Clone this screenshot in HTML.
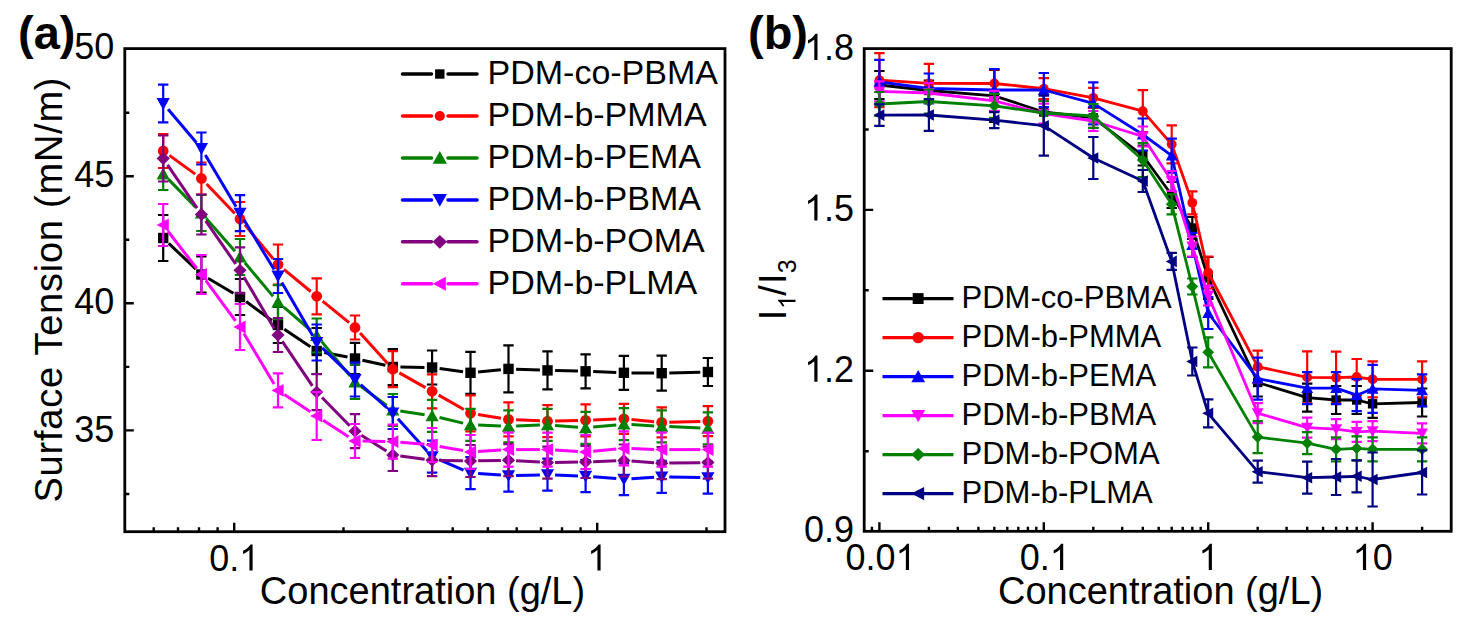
<!DOCTYPE html>
<html><head><meta charset="utf-8"><style>html,body{margin:0;padding:0;background:#fff;width:1471px;height:629px;overflow:hidden}</style></head><body>
<svg width="1471" height="629" viewBox="0 0 1471 629" style="position:absolute;left:0;top:0">
<rect width="1471" height="629" fill="#fff"/>
<g>
<line x1="168.7" y1="243.3" x2="195.9" y2="269.2" stroke="#000000" stroke-width="3.0" stroke-linecap="butt"/>
<line x1="208.0" y1="278.3" x2="233.4" y2="293.2" stroke="#000000" stroke-width="3.0" stroke-linecap="butt"/>
<line x1="246.1" y1="301.5" x2="271.9" y2="320.5" stroke="#000000" stroke-width="3.0" stroke-linecap="butt"/>
<line x1="284.3" y1="329.2" x2="310.4" y2="346.8" stroke="#000000" stroke-width="3.0" stroke-linecap="butt"/>
<line x1="324.2" y1="352.5" x2="347.5" y2="357.0" stroke="#000000" stroke-width="3.0" stroke-linecap="butt"/>
<line x1="362.4" y1="360.2" x2="385.4" y2="365.3" stroke="#000000" stroke-width="3.0" stroke-linecap="butt"/>
<line x1="400.4" y1="367.1" x2="424.5" y2="367.4" stroke="#000000" stroke-width="3.0" stroke-linecap="butt"/>
<line x1="439.6" y1="368.5" x2="463.0" y2="371.8" stroke="#000000" stroke-width="3.0" stroke-linecap="butt"/>
<line x1="478.1" y1="372.0" x2="500.9" y2="369.7" stroke="#000000" stroke-width="3.0" stroke-linecap="butt"/>
<line x1="516.1" y1="369.2" x2="539.9" y2="370.1" stroke="#000000" stroke-width="3.0" stroke-linecap="butt"/>
<line x1="555.1" y1="370.6" x2="578.0" y2="371.1" stroke="#000000" stroke-width="3.0" stroke-linecap="butt"/>
<line x1="593.2" y1="371.6" x2="616.3" y2="372.5" stroke="#000000" stroke-width="3.0" stroke-linecap="butt"/>
<line x1="631.5" y1="372.9" x2="654.1" y2="373.1" stroke="#000000" stroke-width="3.0" stroke-linecap="butt"/>
<line x1="669.3" y1="373.0" x2="700.3" y2="372.2" stroke="#000000" stroke-width="3.0" stroke-linecap="butt"/>
<path d="M163.2 215.0V261.0M158.0 215.0h10.4M158.0 261.0h10.4" stroke="#000000" stroke-width="2.2" fill="none"/>
<path d="M201.4 256.5V292.5M196.2 256.5h10.4M196.2 292.5h10.4" stroke="#000000" stroke-width="2.2" fill="none"/>
<path d="M240.0 279.0V315.0M234.8 279.0h10.4M234.8 315.0h10.4" stroke="#000000" stroke-width="2.2" fill="none"/>
<path d="M278.0 307.0V343.0M272.8 307.0h10.4M272.8 343.0h10.4" stroke="#000000" stroke-width="2.2" fill="none"/>
<path d="M316.7 328.0V374.0M311.5 328.0h10.4M311.5 374.0h10.4" stroke="#000000" stroke-width="2.2" fill="none"/>
<path d="M355.0 342.9V374.1M349.8 342.9h10.4M349.8 374.1h10.4" stroke="#000000" stroke-width="2.2" fill="none"/>
<path d="M392.8 349.0V385.0M387.6 349.0h10.4M387.6 385.0h10.4" stroke="#000000" stroke-width="2.2" fill="none"/>
<path d="M432.1 350.5V384.5M426.9 350.5h10.4M426.9 384.5h10.4" stroke="#000000" stroke-width="2.2" fill="none"/>
<path d="M470.5 351.8V393.8M465.3 351.8h10.4M465.3 393.8h10.4" stroke="#000000" stroke-width="2.2" fill="none"/>
<path d="M508.5 345.4V392.4M503.3 345.4h10.4M503.3 392.4h10.4" stroke="#000000" stroke-width="2.2" fill="none"/>
<path d="M547.5 351.4V389.4M542.3 351.4h10.4M542.3 389.4h10.4" stroke="#000000" stroke-width="2.2" fill="none"/>
<path d="M585.6 354.3V388.3M580.4 354.3h10.4M580.4 388.3h10.4" stroke="#000000" stroke-width="2.2" fill="none"/>
<path d="M623.9 355.8V389.8M618.7 355.8h10.4M618.7 389.8h10.4" stroke="#000000" stroke-width="2.2" fill="none"/>
<path d="M661.7 355.7V390.7M656.5 355.7h10.4M656.5 390.7h10.4" stroke="#000000" stroke-width="2.2" fill="none"/>
<path d="M707.9 358.0V386.0M702.7 358.0h10.4M702.7 386.0h10.4" stroke="#000000" stroke-width="2.2" fill="none"/>
<rect x="158.0" y="232.8" width="10.4" height="10.4" fill="#000000"/>
<rect x="196.2" y="269.3" width="10.4" height="10.4" fill="#000000"/>
<rect x="234.8" y="291.8" width="10.4" height="10.4" fill="#000000"/>
<rect x="272.8" y="319.8" width="10.4" height="10.4" fill="#000000"/>
<rect x="311.5" y="345.8" width="10.4" height="10.4" fill="#000000"/>
<rect x="349.8" y="353.3" width="10.4" height="10.4" fill="#000000"/>
<rect x="387.6" y="361.8" width="10.4" height="10.4" fill="#000000"/>
<rect x="426.9" y="362.3" width="10.4" height="10.4" fill="#000000"/>
<rect x="465.3" y="367.6" width="10.4" height="10.4" fill="#000000"/>
<rect x="503.3" y="363.7" width="10.4" height="10.4" fill="#000000"/>
<rect x="542.3" y="365.2" width="10.4" height="10.4" fill="#000000"/>
<rect x="580.4" y="366.1" width="10.4" height="10.4" fill="#000000"/>
<rect x="618.7" y="367.6" width="10.4" height="10.4" fill="#000000"/>
<rect x="656.5" y="368.0" width="10.4" height="10.4" fill="#000000"/>
<rect x="702.7" y="366.8" width="10.4" height="10.4" fill="#000000"/>
<line x1="169.4" y1="155.4" x2="195.2" y2="174.1" stroke="#ff0000" stroke-width="3.0" stroke-linecap="butt"/>
<line x1="206.6" y1="184.0" x2="234.8" y2="213.5" stroke="#ff0000" stroke-width="3.0" stroke-linecap="butt"/>
<line x1="244.9" y1="224.8" x2="273.1" y2="258.7" stroke="#ff0000" stroke-width="3.0" stroke-linecap="butt"/>
<line x1="283.9" y1="269.3" x2="310.8" y2="291.5" stroke="#ff0000" stroke-width="3.0" stroke-linecap="butt"/>
<line x1="322.6" y1="301.1" x2="349.1" y2="322.7" stroke="#ff0000" stroke-width="3.0" stroke-linecap="butt"/>
<line x1="360.1" y1="333.1" x2="387.7" y2="363.6" stroke="#ff0000" stroke-width="3.0" stroke-linecap="butt"/>
<line x1="399.4" y1="372.9" x2="425.5" y2="387.6" stroke="#ff0000" stroke-width="3.0" stroke-linecap="butt"/>
<line x1="438.7" y1="395.1" x2="463.9" y2="409.5" stroke="#ff0000" stroke-width="3.0" stroke-linecap="butt"/>
<line x1="478.0" y1="414.5" x2="501.0" y2="418.2" stroke="#ff0000" stroke-width="3.0" stroke-linecap="butt"/>
<line x1="516.1" y1="419.8" x2="539.9" y2="420.8" stroke="#ff0000" stroke-width="3.0" stroke-linecap="butt"/>
<line x1="555.1" y1="421.0" x2="578.0" y2="420.5" stroke="#ff0000" stroke-width="3.0" stroke-linecap="butt"/>
<line x1="593.2" y1="420.0" x2="616.3" y2="419.1" stroke="#ff0000" stroke-width="3.0" stroke-linecap="butt"/>
<line x1="631.5" y1="419.5" x2="654.1" y2="421.7" stroke="#ff0000" stroke-width="3.0" stroke-linecap="butt"/>
<line x1="669.3" y1="422.2" x2="700.3" y2="421.4" stroke="#ff0000" stroke-width="3.0" stroke-linecap="butt"/>
<path d="M163.2 134.0V168.0M158.0 134.0h10.4M158.0 168.0h10.4" stroke="#ff0000" stroke-width="2.2" fill="none"/>
<path d="M201.4 162.5V194.5M196.2 162.5h10.4M196.2 194.5h10.4" stroke="#ff0000" stroke-width="2.2" fill="none"/>
<path d="M240.0 202.0V236.0M234.8 202.0h10.4M234.8 236.0h10.4" stroke="#ff0000" stroke-width="2.2" fill="none"/>
<path d="M278.0 244.5V284.5M272.8 244.5h10.4M272.8 284.5h10.4" stroke="#ff0000" stroke-width="2.2" fill="none"/>
<path d="M316.7 278.3V314.3M311.5 278.3h10.4M311.5 314.3h10.4" stroke="#ff0000" stroke-width="2.2" fill="none"/>
<path d="M355.0 315.5V339.5M349.8 315.5h10.4M349.8 339.5h10.4" stroke="#ff0000" stroke-width="2.2" fill="none"/>
<path d="M392.8 351.2V387.2M387.6 351.2h10.4M387.6 387.2h10.4" stroke="#ff0000" stroke-width="2.2" fill="none"/>
<path d="M432.1 374.3V408.3M426.9 374.3h10.4M426.9 408.3h10.4" stroke="#ff0000" stroke-width="2.2" fill="none"/>
<path d="M470.5 395.3V431.3M465.3 395.3h10.4M465.3 431.3h10.4" stroke="#ff0000" stroke-width="2.2" fill="none"/>
<path d="M508.5 402.4V436.4M503.3 402.4h10.4M503.3 436.4h10.4" stroke="#ff0000" stroke-width="2.2" fill="none"/>
<path d="M547.5 405.2V437.2M542.3 405.2h10.4M542.3 437.2h10.4" stroke="#ff0000" stroke-width="2.2" fill="none"/>
<path d="M585.6 404.3V436.3M580.4 404.3h10.4M580.4 436.3h10.4" stroke="#ff0000" stroke-width="2.2" fill="none"/>
<path d="M623.9 403.8V433.8M618.7 403.8h10.4M618.7 433.8h10.4" stroke="#ff0000" stroke-width="2.2" fill="none"/>
<path d="M661.7 407.4V437.4M656.5 407.4h10.4M656.5 437.4h10.4" stroke="#ff0000" stroke-width="2.2" fill="none"/>
<path d="M707.9 406.2V436.2M702.7 406.2h10.4M702.7 436.2h10.4" stroke="#ff0000" stroke-width="2.2" fill="none"/>
<circle cx="163.2" cy="151.0" r="5.4" fill="#ff0000"/>
<circle cx="201.4" cy="178.5" r="5.4" fill="#ff0000"/>
<circle cx="240.0" cy="219.0" r="5.4" fill="#ff0000"/>
<circle cx="278.0" cy="264.5" r="5.4" fill="#ff0000"/>
<circle cx="316.7" cy="296.3" r="5.4" fill="#ff0000"/>
<circle cx="355.0" cy="327.5" r="5.4" fill="#ff0000"/>
<circle cx="392.8" cy="369.2" r="5.4" fill="#ff0000"/>
<circle cx="432.1" cy="391.3" r="5.4" fill="#ff0000"/>
<circle cx="470.5" cy="413.3" r="5.4" fill="#ff0000"/>
<circle cx="508.5" cy="419.4" r="5.4" fill="#ff0000"/>
<circle cx="547.5" cy="421.2" r="5.4" fill="#ff0000"/>
<circle cx="585.6" cy="420.3" r="5.4" fill="#ff0000"/>
<circle cx="623.9" cy="418.8" r="5.4" fill="#ff0000"/>
<circle cx="661.7" cy="422.4" r="5.4" fill="#ff0000"/>
<circle cx="707.9" cy="421.2" r="5.4" fill="#ff0000"/>
<line x1="168.5" y1="179.4" x2="196.1" y2="207.6" stroke="#008000" stroke-width="3.0" stroke-linecap="butt"/>
<line x1="206.4" y1="218.7" x2="235.0" y2="251.3" stroke="#008000" stroke-width="3.0" stroke-linecap="butt"/>
<line x1="244.9" y1="262.8" x2="273.1" y2="296.4" stroke="#008000" stroke-width="3.0" stroke-linecap="butt"/>
<line x1="283.8" y1="307.2" x2="310.9" y2="330.5" stroke="#008000" stroke-width="3.0" stroke-linecap="butt"/>
<line x1="321.5" y1="341.4" x2="350.2" y2="376.1" stroke="#008000" stroke-width="3.0" stroke-linecap="butt"/>
<line x1="361.1" y1="386.5" x2="386.7" y2="405.5" stroke="#008000" stroke-width="3.0" stroke-linecap="butt"/>
<line x1="400.3" y1="411.1" x2="424.6" y2="414.7" stroke="#008000" stroke-width="3.0" stroke-linecap="butt"/>
<line x1="439.5" y1="417.5" x2="463.1" y2="423.1" stroke="#008000" stroke-width="3.0" stroke-linecap="butt"/>
<line x1="478.1" y1="425.1" x2="500.9" y2="426.0" stroke="#008000" stroke-width="3.0" stroke-linecap="butt"/>
<line x1="516.1" y1="426.0" x2="539.9" y2="425.1" stroke="#008000" stroke-width="3.0" stroke-linecap="butt"/>
<line x1="555.1" y1="425.4" x2="578.0" y2="427.2" stroke="#008000" stroke-width="3.0" stroke-linecap="butt"/>
<line x1="593.2" y1="427.1" x2="616.3" y2="424.9" stroke="#008000" stroke-width="3.0" stroke-linecap="butt"/>
<line x1="631.5" y1="424.6" x2="654.1" y2="425.9" stroke="#008000" stroke-width="3.0" stroke-linecap="butt"/>
<line x1="669.3" y1="426.6" x2="700.3" y2="428.1" stroke="#008000" stroke-width="3.0" stroke-linecap="butt"/>
<path d="M163.2 158.0V190.0M158.0 158.0h10.4M158.0 190.0h10.4" stroke="#008000" stroke-width="2.2" fill="none"/>
<path d="M201.4 195.0V231.0M196.2 195.0h10.4M196.2 231.0h10.4" stroke="#008000" stroke-width="2.2" fill="none"/>
<path d="M240.0 239.0V275.0M234.8 239.0h10.4M234.8 275.0h10.4" stroke="#008000" stroke-width="2.2" fill="none"/>
<path d="M278.0 285.2V319.2M272.8 285.2h10.4M272.8 319.2h10.4" stroke="#008000" stroke-width="2.2" fill="none"/>
<path d="M316.7 318.5V352.5M311.5 318.5h10.4M311.5 352.5h10.4" stroke="#008000" stroke-width="2.2" fill="none"/>
<path d="M355.0 365.0V399.0M349.8 365.0h10.4M349.8 399.0h10.4" stroke="#008000" stroke-width="2.2" fill="none"/>
<path d="M392.8 394.0V426.0M387.6 394.0h10.4M387.6 426.0h10.4" stroke="#008000" stroke-width="2.2" fill="none"/>
<path d="M432.1 399.8V431.8M426.9 399.8h10.4M426.9 431.8h10.4" stroke="#008000" stroke-width="2.2" fill="none"/>
<path d="M470.5 408.8V440.8M465.3 408.8h10.4M465.3 440.8h10.4" stroke="#008000" stroke-width="2.2" fill="none"/>
<path d="M508.5 410.3V442.3M503.3 410.3h10.4M503.3 442.3h10.4" stroke="#008000" stroke-width="2.2" fill="none"/>
<path d="M547.5 408.8V440.8M542.3 408.8h10.4M542.3 440.8h10.4" stroke="#008000" stroke-width="2.2" fill="none"/>
<path d="M585.6 411.8V443.8M580.4 411.8h10.4M580.4 443.8h10.4" stroke="#008000" stroke-width="2.2" fill="none"/>
<path d="M623.9 408.2V440.2M618.7 408.2h10.4M618.7 440.2h10.4" stroke="#008000" stroke-width="2.2" fill="none"/>
<path d="M661.7 410.3V442.3M656.5 410.3h10.4M656.5 442.3h10.4" stroke="#008000" stroke-width="2.2" fill="none"/>
<path d="M707.9 412.4V444.4M702.7 412.4h10.4M702.7 444.4h10.4" stroke="#008000" stroke-width="2.2" fill="none"/>
<polygon points="156.6,179.4 169.8,179.4 163.2,167.6" fill="#008000"/>
<polygon points="194.8,218.4 208.0,218.4 201.4,206.6" fill="#008000"/>
<polygon points="233.4,262.4 246.6,262.4 240.0,250.6" fill="#008000"/>
<polygon points="271.4,307.6 284.6,307.6 278.0,295.8" fill="#008000"/>
<polygon points="310.1,340.9 323.3,340.9 316.7,329.1" fill="#008000"/>
<polygon points="348.4,387.4 361.6,387.4 355.0,375.6" fill="#008000"/>
<polygon points="386.2,415.4 399.4,415.4 392.8,403.6" fill="#008000"/>
<polygon points="425.5,421.2 438.7,421.2 432.1,409.4" fill="#008000"/>
<polygon points="463.9,430.2 477.1,430.2 470.5,418.4" fill="#008000"/>
<polygon points="501.9,431.7 515.1,431.7 508.5,419.9" fill="#008000"/>
<polygon points="540.9,430.2 554.1,430.2 547.5,418.4" fill="#008000"/>
<polygon points="579.0,433.2 592.2,433.2 585.6,421.4" fill="#008000"/>
<polygon points="617.3,429.6 630.5,429.6 623.9,417.8" fill="#008000"/>
<polygon points="655.1,431.7 668.3,431.7 661.7,419.9" fill="#008000"/>
<polygon points="701.3,433.8 714.5,433.8 707.9,422.0" fill="#008000"/>
<line x1="168.1" y1="109.3" x2="196.5" y2="142.7" stroke="#0000ff" stroke-width="3.0" stroke-linecap="butt"/>
<line x1="205.3" y1="155.0" x2="236.1" y2="206.7" stroke="#0000ff" stroke-width="3.0" stroke-linecap="butt"/>
<line x1="243.9" y1="219.7" x2="274.1" y2="269.5" stroke="#0000ff" stroke-width="3.0" stroke-linecap="butt"/>
<line x1="281.8" y1="282.6" x2="312.9" y2="335.9" stroke="#0000ff" stroke-width="3.0" stroke-linecap="butt"/>
<line x1="322.2" y1="347.8" x2="349.5" y2="374.2" stroke="#0000ff" stroke-width="3.0" stroke-linecap="butt"/>
<line x1="360.7" y1="384.5" x2="387.1" y2="408.0" stroke="#0000ff" stroke-width="3.0" stroke-linecap="butt"/>
<line x1="397.9" y1="418.7" x2="427.0" y2="451.0" stroke="#0000ff" stroke-width="3.0" stroke-linecap="butt"/>
<line x1="439.1" y1="459.7" x2="463.5" y2="470.1" stroke="#0000ff" stroke-width="3.0" stroke-linecap="butt"/>
<line x1="478.1" y1="473.6" x2="500.9" y2="475.1" stroke="#0000ff" stroke-width="3.0" stroke-linecap="butt"/>
<line x1="516.1" y1="475.4" x2="539.9" y2="474.9" stroke="#0000ff" stroke-width="3.0" stroke-linecap="butt"/>
<line x1="555.1" y1="475.0" x2="578.0" y2="475.9" stroke="#0000ff" stroke-width="3.0" stroke-linecap="butt"/>
<line x1="593.2" y1="476.8" x2="616.3" y2="478.6" stroke="#0000ff" stroke-width="3.0" stroke-linecap="butt"/>
<line x1="631.5" y1="478.7" x2="654.1" y2="477.3" stroke="#0000ff" stroke-width="3.0" stroke-linecap="butt"/>
<line x1="669.3" y1="476.9" x2="700.3" y2="477.6" stroke="#0000ff" stroke-width="3.0" stroke-linecap="butt"/>
<path d="M163.2 84.7V122.3M158.0 84.7h10.4M158.0 122.3h10.4" stroke="#0000ff" stroke-width="2.2" fill="none"/>
<path d="M201.4 132.5V164.5M196.2 132.5h10.4M196.2 164.5h10.4" stroke="#0000ff" stroke-width="2.2" fill="none"/>
<path d="M240.0 195.2V231.2M234.8 195.2h10.4M234.8 231.2h10.4" stroke="#0000ff" stroke-width="2.2" fill="none"/>
<path d="M278.0 259.0V293.0M272.8 259.0h10.4M272.8 293.0h10.4" stroke="#0000ff" stroke-width="2.2" fill="none"/>
<path d="M316.7 324.5V360.5M311.5 324.5h10.4M311.5 360.5h10.4" stroke="#0000ff" stroke-width="2.2" fill="none"/>
<path d="M355.0 362.5V396.5M349.8 362.5h10.4M349.8 396.5h10.4" stroke="#0000ff" stroke-width="2.2" fill="none"/>
<path d="M392.8 397.0V429.0M387.6 397.0h10.4M387.6 429.0h10.4" stroke="#0000ff" stroke-width="2.2" fill="none"/>
<path d="M432.1 440.7V472.7M426.9 440.7h10.4M426.9 472.7h10.4" stroke="#0000ff" stroke-width="2.2" fill="none"/>
<path d="M470.5 457.1V489.1M465.3 457.1h10.4M465.3 489.1h10.4" stroke="#0000ff" stroke-width="2.2" fill="none"/>
<path d="M508.5 459.6V491.6M503.3 459.6h10.4M503.3 491.6h10.4" stroke="#0000ff" stroke-width="2.2" fill="none"/>
<path d="M547.5 458.7V490.7M542.3 458.7h10.4M542.3 490.7h10.4" stroke="#0000ff" stroke-width="2.2" fill="none"/>
<path d="M585.6 460.2V492.2M580.4 460.2h10.4M580.4 492.2h10.4" stroke="#0000ff" stroke-width="2.2" fill="none"/>
<path d="M623.9 463.2V495.2M618.7 463.2h10.4M618.7 495.2h10.4" stroke="#0000ff" stroke-width="2.2" fill="none"/>
<path d="M661.7 460.8V492.8M656.5 460.8h10.4M656.5 492.8h10.4" stroke="#0000ff" stroke-width="2.2" fill="none"/>
<path d="M707.9 461.7V493.7M702.7 461.7h10.4M702.7 493.7h10.4" stroke="#0000ff" stroke-width="2.2" fill="none"/>
<polygon points="156.6,98.1 169.8,98.1 163.2,109.9" fill="#0000ff"/>
<polygon points="194.8,143.1 208.0,143.1 201.4,154.9" fill="#0000ff"/>
<polygon points="233.4,207.8 246.6,207.8 240.0,219.6" fill="#0000ff"/>
<polygon points="271.4,270.6 284.6,270.6 278.0,282.4" fill="#0000ff"/>
<polygon points="310.1,337.1 323.3,337.1 316.7,348.9" fill="#0000ff"/>
<polygon points="348.4,374.1 361.6,374.1 355.0,385.9" fill="#0000ff"/>
<polygon points="386.2,407.6 399.4,407.6 392.8,419.4" fill="#0000ff"/>
<polygon points="425.5,451.3 438.7,451.3 432.1,463.1" fill="#0000ff"/>
<polygon points="463.9,467.7 477.1,467.7 470.5,479.5" fill="#0000ff"/>
<polygon points="501.9,470.2 515.1,470.2 508.5,482.0" fill="#0000ff"/>
<polygon points="540.9,469.3 554.1,469.3 547.5,481.1" fill="#0000ff"/>
<polygon points="579.0,470.8 592.2,470.8 585.6,482.6" fill="#0000ff"/>
<polygon points="617.3,473.8 630.5,473.8 623.9,485.6" fill="#0000ff"/>
<polygon points="655.1,471.4 668.3,471.4 661.7,483.2" fill="#0000ff"/>
<polygon points="701.3,472.3 714.5,472.3 707.9,484.1" fill="#0000ff"/>
<line x1="167.5" y1="164.8" x2="197.1" y2="208.2" stroke="#800080" stroke-width="3.0" stroke-linecap="butt"/>
<line x1="205.7" y1="220.8" x2="235.7" y2="264.0" stroke="#800080" stroke-width="3.0" stroke-linecap="butt"/>
<line x1="243.8" y1="276.9" x2="274.2" y2="328.4" stroke="#800080" stroke-width="3.0" stroke-linecap="butt"/>
<line x1="282.3" y1="341.3" x2="312.4" y2="385.8" stroke="#800080" stroke-width="3.0" stroke-linecap="butt"/>
<line x1="322.0" y1="397.5" x2="349.7" y2="425.8" stroke="#800080" stroke-width="3.0" stroke-linecap="butt"/>
<line x1="361.4" y1="435.2" x2="386.4" y2="451.0" stroke="#800080" stroke-width="3.0" stroke-linecap="butt"/>
<line x1="400.3" y1="456.0" x2="424.6" y2="459.2" stroke="#800080" stroke-width="3.0" stroke-linecap="butt"/>
<line x1="439.7" y1="460.4" x2="462.9" y2="460.8" stroke="#800080" stroke-width="3.0" stroke-linecap="butt"/>
<line x1="478.1" y1="460.8" x2="500.9" y2="460.4" stroke="#800080" stroke-width="3.0" stroke-linecap="butt"/>
<line x1="516.1" y1="460.7" x2="539.9" y2="462.1" stroke="#800080" stroke-width="3.0" stroke-linecap="butt"/>
<line x1="555.1" y1="462.5" x2="578.0" y2="462.1" stroke="#800080" stroke-width="3.0" stroke-linecap="butt"/>
<line x1="593.2" y1="461.7" x2="616.3" y2="460.8" stroke="#800080" stroke-width="3.0" stroke-linecap="butt"/>
<line x1="631.5" y1="461.0" x2="654.1" y2="462.7" stroke="#800080" stroke-width="3.0" stroke-linecap="butt"/>
<line x1="669.3" y1="463.1" x2="700.3" y2="462.7" stroke="#800080" stroke-width="3.0" stroke-linecap="butt"/>
<path d="M163.2 135.5V181.5M158.0 135.5h10.4M158.0 181.5h10.4" stroke="#800080" stroke-width="2.2" fill="none"/>
<path d="M201.4 194.5V234.5M196.2 194.5h10.4M196.2 234.5h10.4" stroke="#800080" stroke-width="2.2" fill="none"/>
<path d="M240.0 247.3V293.3M234.8 247.3h10.4M234.8 293.3h10.4" stroke="#800080" stroke-width="2.2" fill="none"/>
<path d="M278.0 318.0V352.0M272.8 318.0h10.4M272.8 352.0h10.4" stroke="#800080" stroke-width="2.2" fill="none"/>
<path d="M316.7 374.1V410.1M311.5 374.1h10.4M311.5 410.1h10.4" stroke="#800080" stroke-width="2.2" fill="none"/>
<path d="M355.0 414.2V448.2M349.8 414.2h10.4M349.8 448.2h10.4" stroke="#800080" stroke-width="2.2" fill="none"/>
<path d="M392.8 439.0V471.0M387.6 439.0h10.4M387.6 471.0h10.4" stroke="#800080" stroke-width="2.2" fill="none"/>
<path d="M432.1 444.2V476.2M426.9 444.2h10.4M426.9 476.2h10.4" stroke="#800080" stroke-width="2.2" fill="none"/>
<path d="M470.5 445.0V477.0M465.3 445.0h10.4M465.3 477.0h10.4" stroke="#800080" stroke-width="2.2" fill="none"/>
<path d="M508.5 444.2V476.2M503.3 444.2h10.4M503.3 476.2h10.4" stroke="#800080" stroke-width="2.2" fill="none"/>
<path d="M547.5 446.6V478.6M542.3 446.6h10.4M542.3 478.6h10.4" stroke="#800080" stroke-width="2.2" fill="none"/>
<path d="M585.6 446.0V478.0M580.4 446.0h10.4M580.4 478.0h10.4" stroke="#800080" stroke-width="2.2" fill="none"/>
<path d="M623.9 444.5V476.5M618.7 444.5h10.4M618.7 476.5h10.4" stroke="#800080" stroke-width="2.2" fill="none"/>
<path d="M661.7 447.2V479.2M656.5 447.2h10.4M656.5 479.2h10.4" stroke="#800080" stroke-width="2.2" fill="none"/>
<path d="M707.9 446.6V478.6M702.7 446.6h10.4M702.7 478.6h10.4" stroke="#800080" stroke-width="2.2" fill="none"/>
<polygon points="156.6,158.5 163.2,152.1 169.8,158.5 163.2,164.9" fill="#800080"/>
<polygon points="194.8,214.5 201.4,208.1 208.0,214.5 201.4,220.9" fill="#800080"/>
<polygon points="233.4,270.3 240.0,263.9 246.6,270.3 240.0,276.7" fill="#800080"/>
<polygon points="271.4,335.0 278.0,328.6 284.6,335.0 278.0,341.4" fill="#800080"/>
<polygon points="310.1,392.1 316.7,385.7 323.3,392.1 316.7,398.5" fill="#800080"/>
<polygon points="348.4,431.2 355.0,424.8 361.6,431.2 355.0,437.6" fill="#800080"/>
<polygon points="386.2,455.0 392.8,448.6 399.4,455.0 392.8,461.4" fill="#800080"/>
<polygon points="425.5,460.2 432.1,453.8 438.7,460.2 432.1,466.6" fill="#800080"/>
<polygon points="463.9,461.0 470.5,454.6 477.1,461.0 470.5,467.4" fill="#800080"/>
<polygon points="501.9,460.2 508.5,453.8 515.1,460.2 508.5,466.6" fill="#800080"/>
<polygon points="540.9,462.6 547.5,456.2 554.1,462.6 547.5,469.0" fill="#800080"/>
<polygon points="579.0,462.0 585.6,455.6 592.2,462.0 585.6,468.4" fill="#800080"/>
<polygon points="617.3,460.5 623.9,454.1 630.5,460.5 623.9,466.9" fill="#800080"/>
<polygon points="655.1,463.2 661.7,456.8 668.3,463.2 661.7,469.6" fill="#800080"/>
<polygon points="701.3,462.6 707.9,456.2 714.5,462.6 707.9,469.0" fill="#800080"/>
<line x1="167.8" y1="231.0" x2="196.8" y2="268.5" stroke="#ff00ff" stroke-width="3.0" stroke-linecap="butt"/>
<line x1="205.9" y1="280.6" x2="235.5" y2="320.9" stroke="#ff00ff" stroke-width="3.0" stroke-linecap="butt"/>
<line x1="243.9" y1="333.5" x2="274.1" y2="383.9" stroke="#ff00ff" stroke-width="3.0" stroke-linecap="butt"/>
<line x1="284.3" y1="394.6" x2="310.4" y2="411.8" stroke="#ff00ff" stroke-width="3.0" stroke-linecap="butt"/>
<line x1="323.1" y1="420.2" x2="348.6" y2="436.8" stroke="#ff00ff" stroke-width="3.0" stroke-linecap="butt"/>
<line x1="362.6" y1="441.1" x2="385.2" y2="441.5" stroke="#ff00ff" stroke-width="3.0" stroke-linecap="butt"/>
<line x1="400.4" y1="442.3" x2="424.5" y2="444.3" stroke="#ff00ff" stroke-width="3.0" stroke-linecap="butt"/>
<line x1="439.6" y1="446.4" x2="463.0" y2="450.6" stroke="#ff00ff" stroke-width="3.0" stroke-linecap="butt"/>
<line x1="478.1" y1="451.5" x2="500.9" y2="450.1" stroke="#ff00ff" stroke-width="3.0" stroke-linecap="butt"/>
<line x1="516.1" y1="449.6" x2="539.9" y2="449.6" stroke="#ff00ff" stroke-width="3.0" stroke-linecap="butt"/>
<line x1="555.1" y1="450.1" x2="578.0" y2="451.5" stroke="#ff00ff" stroke-width="3.0" stroke-linecap="butt"/>
<line x1="593.2" y1="451.3" x2="616.3" y2="449.1" stroke="#ff00ff" stroke-width="3.0" stroke-linecap="butt"/>
<line x1="631.5" y1="448.6" x2="654.1" y2="449.4" stroke="#ff00ff" stroke-width="3.0" stroke-linecap="butt"/>
<line x1="669.3" y1="449.6" x2="700.3" y2="449.6" stroke="#ff00ff" stroke-width="3.0" stroke-linecap="butt"/>
<path d="M163.2 204.0V246.0M158.0 204.0h10.4M158.0 246.0h10.4" stroke="#ff00ff" stroke-width="2.2" fill="none"/>
<path d="M201.4 255.0V294.0M196.2 255.0h10.4M196.2 294.0h10.4" stroke="#ff00ff" stroke-width="2.2" fill="none"/>
<path d="M240.0 304.0V350.0M234.8 304.0h10.4M234.8 350.0h10.4" stroke="#ff00ff" stroke-width="2.2" fill="none"/>
<path d="M278.0 373.4V407.4M272.8 373.4h10.4M272.8 407.4h10.4" stroke="#ff00ff" stroke-width="2.2" fill="none"/>
<path d="M316.7 392.0V440.0M311.5 392.0h10.4M311.5 440.0h10.4" stroke="#ff00ff" stroke-width="2.2" fill="none"/>
<path d="M355.0 424.0V458.0M349.8 424.0h10.4M349.8 458.0h10.4" stroke="#ff00ff" stroke-width="2.2" fill="none"/>
<path d="M392.8 424.6V458.6M387.6 424.6h10.4M387.6 458.6h10.4" stroke="#ff00ff" stroke-width="2.2" fill="none"/>
<path d="M432.1 428.0V462.0M426.9 428.0h10.4M426.9 462.0h10.4" stroke="#ff00ff" stroke-width="2.2" fill="none"/>
<path d="M470.5 435.0V469.0M465.3 435.0h10.4M465.3 469.0h10.4" stroke="#ff00ff" stroke-width="2.2" fill="none"/>
<path d="M508.5 432.6V466.6M503.3 432.6h10.4M503.3 466.6h10.4" stroke="#ff00ff" stroke-width="2.2" fill="none"/>
<path d="M547.5 432.6V466.6M542.3 432.6h10.4M542.3 466.6h10.4" stroke="#ff00ff" stroke-width="2.2" fill="none"/>
<path d="M585.6 435.0V469.0M580.4 435.0h10.4M580.4 469.0h10.4" stroke="#ff00ff" stroke-width="2.2" fill="none"/>
<path d="M623.9 431.4V465.4M618.7 431.4h10.4M618.7 465.4h10.4" stroke="#ff00ff" stroke-width="2.2" fill="none"/>
<path d="M661.7 432.6V466.6M656.5 432.6h10.4M656.5 466.6h10.4" stroke="#ff00ff" stroke-width="2.2" fill="none"/>
<path d="M707.9 432.6V466.6M702.7 432.6h10.4M702.7 466.6h10.4" stroke="#ff00ff" stroke-width="2.2" fill="none"/>
<polygon points="168.8,218.6 168.8,231.4 156.6,225.0" fill="#ff00ff"/>
<polygon points="207.0,268.1 207.0,280.9 194.8,274.5" fill="#ff00ff"/>
<polygon points="245.6,320.6 245.6,333.4 233.4,327.0" fill="#ff00ff"/>
<polygon points="283.6,384.0 283.6,396.8 271.4,390.4" fill="#ff00ff"/>
<polygon points="322.3,409.6 322.3,422.4 310.1,416.0" fill="#ff00ff"/>
<polygon points="360.6,434.6 360.6,447.4 348.4,441.0" fill="#ff00ff"/>
<polygon points="398.4,435.2 398.4,448.0 386.2,441.6" fill="#ff00ff"/>
<polygon points="437.7,438.6 437.7,451.4 425.5,445.0" fill="#ff00ff"/>
<polygon points="476.1,445.6 476.1,458.4 463.9,452.0" fill="#ff00ff"/>
<polygon points="514.1,443.2 514.1,456.0 501.9,449.6" fill="#ff00ff"/>
<polygon points="553.1,443.2 553.1,456.0 540.9,449.6" fill="#ff00ff"/>
<polygon points="591.2,445.6 591.2,458.4 579.0,452.0" fill="#ff00ff"/>
<polygon points="629.5,442.0 629.5,454.8 617.3,448.4" fill="#ff00ff"/>
<polygon points="667.3,443.2 667.3,456.0 655.1,449.6" fill="#ff00ff"/>
<polygon points="713.5,443.2 713.5,456.0 701.3,449.6" fill="#ff00ff"/>
</g>
<rect x="124.8" y="48.6" width="600.2" height="483.1" fill="none" stroke="#000" stroke-width="2.8"/>
<path d="M124.8 430.4h9M124.8 303.3h9M124.8 176.2h9M124.8 494.0h4.5M124.8 366.9h4.5M124.8 239.8h4.5M124.8 112.7h4.5M234.2 531.7v-9M597.2 531.7v-9M153.7 531.7v-4.5M178.0 531.7v-4.5M199.0 531.7v-4.5M217.6 531.7v-4.5M343.5 531.7v-4.5M407.4 531.7v-4.5M452.7 531.7v-4.5M487.9 531.7v-4.5M516.7 531.7v-4.5M541.0 531.7v-4.5M562.0 531.7v-4.5M580.6 531.7v-4.5M706.5 531.7v-4.5" stroke="#000" stroke-width="2.4" fill="none"/>
<g>
<polyline points="879.4,85.0 928.9,90.5 994.3,95.8 1043.8,112.0 1093.3,117.8 1142.8,155.5 1171.7,195.0 1192.3,228.0 1208.2,278.0 1257.7,382.5 1307.2,397.7 1336.1,400.0 1356.7,400.0 1372.6,403.8 1422.1,402.5" fill="none" stroke="#000000" stroke-width="2.8" stroke-linejoin="round"/>
<path d="M879.4 71.0V99.0M874.2 71.0h10.4M874.2 99.0h10.4" stroke="#000000" stroke-width="2.2" fill="none"/>
<path d="M928.9 80.5V100.5M923.7 80.5h10.4M923.7 100.5h10.4" stroke="#000000" stroke-width="2.2" fill="none"/>
<path d="M994.3 69.8V121.8M989.1 69.8h10.4M989.1 121.8h10.4" stroke="#000000" stroke-width="2.2" fill="none"/>
<path d="M1043.8 100.0V124.0M1038.6 100.0h10.4M1038.6 124.0h10.4" stroke="#000000" stroke-width="2.2" fill="none"/>
<path d="M1093.3 107.8V127.8M1088.1 107.8h10.4M1088.1 127.8h10.4" stroke="#000000" stroke-width="2.2" fill="none"/>
<path d="M1142.8 145.5V165.5M1137.6 145.5h10.4M1137.6 165.5h10.4" stroke="#000000" stroke-width="2.2" fill="none"/>
<path d="M1171.7 182.0V208.0M1166.5 182.0h10.4M1166.5 208.0h10.4" stroke="#000000" stroke-width="2.2" fill="none"/>
<path d="M1192.3 217.0V239.0M1187.1 217.0h10.4M1187.1 239.0h10.4" stroke="#000000" stroke-width="2.2" fill="none"/>
<path d="M1208.2 257.0V299.0M1203.0 257.0h10.4M1203.0 299.0h10.4" stroke="#000000" stroke-width="2.2" fill="none"/>
<path d="M1257.7 368.5V396.5M1252.5 368.5h10.4M1252.5 396.5h10.4" stroke="#000000" stroke-width="2.2" fill="none"/>
<path d="M1307.2 383.7V411.7M1302.0 383.7h10.4M1302.0 411.7h10.4" stroke="#000000" stroke-width="2.2" fill="none"/>
<path d="M1336.1 386.0V414.0M1330.9 386.0h10.4M1330.9 414.0h10.4" stroke="#000000" stroke-width="2.2" fill="none"/>
<path d="M1356.7 386.0V414.0M1351.5 386.0h10.4M1351.5 414.0h10.4" stroke="#000000" stroke-width="2.2" fill="none"/>
<path d="M1372.6 389.8V417.8M1367.4 389.8h10.4M1367.4 417.8h10.4" stroke="#000000" stroke-width="2.2" fill="none"/>
<path d="M1422.1 388.5V416.5M1416.9 388.5h10.4M1416.9 416.5h10.4" stroke="#000000" stroke-width="2.2" fill="none"/>
<rect x="874.7" y="80.3" width="9.4" height="9.4" fill="#000000"/>
<rect x="924.2" y="85.8" width="9.4" height="9.4" fill="#000000"/>
<rect x="989.6" y="91.1" width="9.4" height="9.4" fill="#000000"/>
<rect x="1039.1" y="107.3" width="9.4" height="9.4" fill="#000000"/>
<rect x="1088.6" y="113.1" width="9.4" height="9.4" fill="#000000"/>
<rect x="1138.1" y="150.8" width="9.4" height="9.4" fill="#000000"/>
<rect x="1167.0" y="190.3" width="9.4" height="9.4" fill="#000000"/>
<rect x="1187.6" y="223.3" width="9.4" height="9.4" fill="#000000"/>
<rect x="1203.5" y="273.3" width="9.4" height="9.4" fill="#000000"/>
<rect x="1253.0" y="377.8" width="9.4" height="9.4" fill="#000000"/>
<rect x="1302.5" y="393.0" width="9.4" height="9.4" fill="#000000"/>
<rect x="1331.4" y="395.3" width="9.4" height="9.4" fill="#000000"/>
<rect x="1352.0" y="395.3" width="9.4" height="9.4" fill="#000000"/>
<rect x="1367.9" y="399.1" width="9.4" height="9.4" fill="#000000"/>
<rect x="1417.4" y="397.8" width="9.4" height="9.4" fill="#000000"/>
<polyline points="879.4,80.2 928.9,83.4 994.3,83.5 1043.8,88.6 1093.3,97.8 1142.8,111.2 1171.7,144.3 1192.3,202.8 1208.2,272.5 1257.7,366.7 1307.2,377.4 1336.1,377.7 1356.7,377.0 1372.6,379.3 1422.1,379.3" fill="none" stroke="#ff0000" stroke-width="2.8" stroke-linejoin="round"/>
<path d="M879.4 53.2V107.2M874.2 53.2h10.4M874.2 107.2h10.4" stroke="#ff0000" stroke-width="2.2" fill="none"/>
<path d="M928.9 63.9V102.9M923.7 63.9h10.4M923.7 102.9h10.4" stroke="#ff0000" stroke-width="2.2" fill="none"/>
<path d="M994.3 69.5V97.5M989.1 69.5h10.4M989.1 97.5h10.4" stroke="#ff0000" stroke-width="2.2" fill="none"/>
<path d="M1043.8 78.1V99.1M1038.6 78.1h10.4M1038.6 99.1h10.4" stroke="#ff0000" stroke-width="2.2" fill="none"/>
<path d="M1093.3 87.8V107.8M1088.1 87.8h10.4M1088.1 107.8h10.4" stroke="#ff0000" stroke-width="2.2" fill="none"/>
<path d="M1142.8 90.2V132.2M1137.6 90.2h10.4M1137.6 132.2h10.4" stroke="#ff0000" stroke-width="2.2" fill="none"/>
<path d="M1171.7 125.3V163.3M1166.5 125.3h10.4M1166.5 163.3h10.4" stroke="#ff0000" stroke-width="2.2" fill="none"/>
<path d="M1192.3 191.3V214.3M1187.1 191.3h10.4M1187.1 214.3h10.4" stroke="#ff0000" stroke-width="2.2" fill="none"/>
<path d="M1208.2 256.5V288.5M1203.0 256.5h10.4M1203.0 288.5h10.4" stroke="#ff0000" stroke-width="2.2" fill="none"/>
<path d="M1257.7 350.7V382.7M1252.5 350.7h10.4M1252.5 382.7h10.4" stroke="#ff0000" stroke-width="2.2" fill="none"/>
<path d="M1307.2 351.4V403.4M1302.0 351.4h10.4M1302.0 403.4h10.4" stroke="#ff0000" stroke-width="2.2" fill="none"/>
<path d="M1336.1 351.7V403.7M1330.9 351.7h10.4M1330.9 403.7h10.4" stroke="#ff0000" stroke-width="2.2" fill="none"/>
<path d="M1356.7 359.0V395.0M1351.5 359.0h10.4M1351.5 395.0h10.4" stroke="#ff0000" stroke-width="2.2" fill="none"/>
<path d="M1372.6 361.3V397.3M1367.4 361.3h10.4M1367.4 397.3h10.4" stroke="#ff0000" stroke-width="2.2" fill="none"/>
<path d="M1422.1 361.3V397.3M1416.9 361.3h10.4M1416.9 397.3h10.4" stroke="#ff0000" stroke-width="2.2" fill="none"/>
<circle cx="879.4" cy="80.2" r="4.9" fill="#ff0000"/>
<circle cx="928.9" cy="83.4" r="4.9" fill="#ff0000"/>
<circle cx="994.3" cy="83.5" r="4.9" fill="#ff0000"/>
<circle cx="1043.8" cy="88.6" r="4.9" fill="#ff0000"/>
<circle cx="1093.3" cy="97.8" r="4.9" fill="#ff0000"/>
<circle cx="1142.8" cy="111.2" r="4.9" fill="#ff0000"/>
<circle cx="1171.7" cy="144.3" r="4.9" fill="#ff0000"/>
<circle cx="1192.3" cy="202.8" r="4.9" fill="#ff0000"/>
<circle cx="1208.2" cy="272.5" r="4.9" fill="#ff0000"/>
<circle cx="1257.7" cy="366.7" r="4.9" fill="#ff0000"/>
<circle cx="1307.2" cy="377.4" r="4.9" fill="#ff0000"/>
<circle cx="1336.1" cy="377.7" r="4.9" fill="#ff0000"/>
<circle cx="1356.7" cy="377.0" r="4.9" fill="#ff0000"/>
<circle cx="1372.6" cy="379.3" r="4.9" fill="#ff0000"/>
<circle cx="1422.1" cy="379.3" r="4.9" fill="#ff0000"/>
<polyline points="879.4,81.8 928.9,88.5 994.3,90.0 1043.8,90.0 1093.3,103.4 1142.8,134.5 1171.7,155.7 1192.3,245.0 1208.2,313.0 1257.7,378.6 1307.2,388.2 1336.1,388.2 1356.7,395.2 1372.6,388.8 1422.1,390.4" fill="none" stroke="#0000ff" stroke-width="2.8" stroke-linejoin="round"/>
<path d="M879.4 59.8V103.8M874.2 59.8h10.4M874.2 103.8h10.4" stroke="#0000ff" stroke-width="2.2" fill="none"/>
<path d="M928.9 73.5V103.5M923.7 73.5h10.4M923.7 103.5h10.4" stroke="#0000ff" stroke-width="2.2" fill="none"/>
<path d="M994.3 69.0V111.0M989.1 69.0h10.4M989.1 111.0h10.4" stroke="#0000ff" stroke-width="2.2" fill="none"/>
<path d="M1043.8 73.0V107.0M1038.6 73.0h10.4M1038.6 107.0h10.4" stroke="#0000ff" stroke-width="2.2" fill="none"/>
<path d="M1093.3 82.4V124.4M1088.1 82.4h10.4M1088.1 124.4h10.4" stroke="#0000ff" stroke-width="2.2" fill="none"/>
<path d="M1142.8 118.5V150.5M1137.6 118.5h10.4M1137.6 150.5h10.4" stroke="#0000ff" stroke-width="2.2" fill="none"/>
<path d="M1171.7 138.7V172.7M1166.5 138.7h10.4M1166.5 172.7h10.4" stroke="#0000ff" stroke-width="2.2" fill="none"/>
<path d="M1192.3 233.0V257.0M1187.1 233.0h10.4M1187.1 257.0h10.4" stroke="#0000ff" stroke-width="2.2" fill="none"/>
<path d="M1208.2 297.0V329.0M1203.0 297.0h10.4M1203.0 329.0h10.4" stroke="#0000ff" stroke-width="2.2" fill="none"/>
<path d="M1257.7 357.6V399.6M1252.5 357.6h10.4M1252.5 399.6h10.4" stroke="#0000ff" stroke-width="2.2" fill="none"/>
<path d="M1307.2 372.2V404.2M1302.0 372.2h10.4M1302.0 404.2h10.4" stroke="#0000ff" stroke-width="2.2" fill="none"/>
<path d="M1336.1 372.2V404.2M1330.9 372.2h10.4M1330.9 404.2h10.4" stroke="#0000ff" stroke-width="2.2" fill="none"/>
<path d="M1356.7 379.2V411.2M1351.5 379.2h10.4M1351.5 411.2h10.4" stroke="#0000ff" stroke-width="2.2" fill="none"/>
<path d="M1372.6 364.8V412.8M1367.4 364.8h10.4M1367.4 412.8h10.4" stroke="#0000ff" stroke-width="2.2" fill="none"/>
<path d="M1422.1 374.4V406.4M1416.9 374.4h10.4M1416.9 406.4h10.4" stroke="#0000ff" stroke-width="2.2" fill="none"/>
<polygon points="873.5,86.7 885.3,86.7 879.4,75.9" fill="#0000ff"/>
<polygon points="922.9,93.4 934.8,93.4 928.9,82.6" fill="#0000ff"/>
<polygon points="988.4,94.9 1000.3,94.9 994.3,84.1" fill="#0000ff"/>
<polygon points="1037.9,94.9 1049.7,94.9 1043.8,84.1" fill="#0000ff"/>
<polygon points="1087.3,108.3 1099.2,108.3 1093.3,97.5" fill="#0000ff"/>
<polygon points="1136.8,139.4 1148.7,139.4 1142.8,128.6" fill="#0000ff"/>
<polygon points="1165.8,160.6 1177.7,160.6 1171.7,149.8" fill="#0000ff"/>
<polygon points="1186.3,249.9 1198.2,249.9 1192.3,239.1" fill="#0000ff"/>
<polygon points="1202.3,317.9 1214.1,317.9 1208.2,307.1" fill="#0000ff"/>
<polygon points="1251.7,383.5 1263.6,383.5 1257.7,372.7" fill="#0000ff"/>
<polygon points="1301.2,393.1 1313.1,393.1 1307.2,382.3" fill="#0000ff"/>
<polygon points="1330.2,393.1 1342.1,393.1 1336.1,382.3" fill="#0000ff"/>
<polygon points="1350.7,400.1 1362.6,400.1 1356.7,389.3" fill="#0000ff"/>
<polygon points="1366.7,393.7 1378.5,393.7 1372.6,382.9" fill="#0000ff"/>
<polygon points="1416.1,395.3 1428.0,395.3 1422.1,384.5" fill="#0000ff"/>
<polyline points="879.4,91.3 928.9,93.0 994.3,100.8 1043.8,113.6 1093.3,121.0 1142.8,136.5 1171.7,181.0 1192.3,246.5 1208.2,295.5 1257.7,413.2 1307.2,427.6 1336.1,429.2 1356.7,431.8 1372.6,431.1 1422.1,433.4" fill="none" stroke="#ff00ff" stroke-width="2.8" stroke-linejoin="round"/>
<path d="M879.4 81.3V101.3M874.2 81.3h10.4M874.2 101.3h10.4" stroke="#ff00ff" stroke-width="2.2" fill="none"/>
<path d="M928.9 83.0V103.0M923.7 83.0h10.4M923.7 103.0h10.4" stroke="#ff00ff" stroke-width="2.2" fill="none"/>
<path d="M994.3 90.8V110.8M989.1 90.8h10.4M989.1 110.8h10.4" stroke="#ff00ff" stroke-width="2.2" fill="none"/>
<path d="M1043.8 103.6V123.6M1038.6 103.6h10.4M1038.6 123.6h10.4" stroke="#ff00ff" stroke-width="2.2" fill="none"/>
<path d="M1093.3 111.0V131.0M1088.1 111.0h10.4M1088.1 131.0h10.4" stroke="#ff00ff" stroke-width="2.2" fill="none"/>
<path d="M1142.8 126.5V146.5M1137.6 126.5h10.4M1137.6 146.5h10.4" stroke="#ff00ff" stroke-width="2.2" fill="none"/>
<path d="M1171.7 171.0V191.0M1166.5 171.0h10.4M1166.5 191.0h10.4" stroke="#ff00ff" stroke-width="2.2" fill="none"/>
<path d="M1192.3 236.5V256.5M1187.1 236.5h10.4M1187.1 256.5h10.4" stroke="#ff00ff" stroke-width="2.2" fill="none"/>
<path d="M1208.2 285.5V305.5M1203.0 285.5h10.4M1203.0 305.5h10.4" stroke="#ff00ff" stroke-width="2.2" fill="none"/>
<path d="M1257.7 403.2V423.2M1252.5 403.2h10.4M1252.5 423.2h10.4" stroke="#ff00ff" stroke-width="2.2" fill="none"/>
<path d="M1307.2 417.6V437.6M1302.0 417.6h10.4M1302.0 437.6h10.4" stroke="#ff00ff" stroke-width="2.2" fill="none"/>
<path d="M1336.1 419.2V439.2M1330.9 419.2h10.4M1330.9 439.2h10.4" stroke="#ff00ff" stroke-width="2.2" fill="none"/>
<path d="M1356.7 421.8V441.8M1351.5 421.8h10.4M1351.5 441.8h10.4" stroke="#ff00ff" stroke-width="2.2" fill="none"/>
<path d="M1372.6 421.1V441.1M1367.4 421.1h10.4M1367.4 441.1h10.4" stroke="#ff00ff" stroke-width="2.2" fill="none"/>
<path d="M1422.1 423.4V443.4M1416.9 423.4h10.4M1416.9 443.4h10.4" stroke="#ff00ff" stroke-width="2.2" fill="none"/>
<polygon points="873.5,86.4 885.3,86.4 879.4,97.2" fill="#ff00ff"/>
<polygon points="922.9,88.1 934.8,88.1 928.9,98.9" fill="#ff00ff"/>
<polygon points="988.4,95.9 1000.3,95.9 994.3,106.7" fill="#ff00ff"/>
<polygon points="1037.9,108.7 1049.7,108.7 1043.8,119.5" fill="#ff00ff"/>
<polygon points="1087.3,116.1 1099.2,116.1 1093.3,126.9" fill="#ff00ff"/>
<polygon points="1136.8,131.6 1148.7,131.6 1142.8,142.4" fill="#ff00ff"/>
<polygon points="1165.8,176.1 1177.7,176.1 1171.7,186.9" fill="#ff00ff"/>
<polygon points="1186.3,241.6 1198.2,241.6 1192.3,252.4" fill="#ff00ff"/>
<polygon points="1202.3,290.6 1214.1,290.6 1208.2,301.4" fill="#ff00ff"/>
<polygon points="1251.7,408.3 1263.6,408.3 1257.7,419.1" fill="#ff00ff"/>
<polygon points="1301.2,422.7 1313.1,422.7 1307.2,433.5" fill="#ff00ff"/>
<polygon points="1330.2,424.3 1342.1,424.3 1336.1,435.1" fill="#ff00ff"/>
<polygon points="1350.7,426.9 1362.6,426.9 1356.7,437.7" fill="#ff00ff"/>
<polygon points="1366.7,426.2 1378.5,426.2 1372.6,437.0" fill="#ff00ff"/>
<polygon points="1416.1,428.5 1428.0,428.5 1422.1,439.3" fill="#ff00ff"/>
<polyline points="879.4,104.0 928.9,101.5 994.3,105.8 1043.8,113.0 1093.3,116.0 1142.8,160.0 1171.7,204.3 1192.3,286.5 1208.2,352.3 1257.7,437.1 1307.2,443.1 1336.1,449.3 1356.7,448.3 1372.6,449.3 1422.1,449.3" fill="none" stroke="#008000" stroke-width="2.8" stroke-linejoin="round"/>
<path d="M879.4 92.0V116.0M874.2 92.0h10.4M874.2 116.0h10.4" stroke="#008000" stroke-width="2.2" fill="none"/>
<path d="M928.9 89.5V113.5M923.7 89.5h10.4M923.7 113.5h10.4" stroke="#008000" stroke-width="2.2" fill="none"/>
<path d="M994.3 93.8V117.8M989.1 93.8h10.4M989.1 117.8h10.4" stroke="#008000" stroke-width="2.2" fill="none"/>
<path d="M1043.8 101.0V125.0M1038.6 101.0h10.4M1038.6 125.0h10.4" stroke="#008000" stroke-width="2.2" fill="none"/>
<path d="M1093.3 104.0V128.0M1088.1 104.0h10.4M1088.1 128.0h10.4" stroke="#008000" stroke-width="2.2" fill="none"/>
<path d="M1142.8 143.0V177.0M1137.6 143.0h10.4M1137.6 177.0h10.4" stroke="#008000" stroke-width="2.2" fill="none"/>
<path d="M1171.7 194.3V214.3M1166.5 194.3h10.4M1166.5 214.3h10.4" stroke="#008000" stroke-width="2.2" fill="none"/>
<path d="M1192.3 278.5V294.5M1187.1 278.5h10.4M1187.1 294.5h10.4" stroke="#008000" stroke-width="2.2" fill="none"/>
<path d="M1208.2 337.3V367.3M1203.0 337.3h10.4M1203.0 367.3h10.4" stroke="#008000" stroke-width="2.2" fill="none"/>
<path d="M1257.7 421.1V453.1M1252.5 421.1h10.4M1252.5 453.1h10.4" stroke="#008000" stroke-width="2.2" fill="none"/>
<path d="M1307.2 432.1V454.1M1302.0 432.1h10.4M1302.0 454.1h10.4" stroke="#008000" stroke-width="2.2" fill="none"/>
<path d="M1336.1 437.3V461.3M1330.9 437.3h10.4M1330.9 461.3h10.4" stroke="#008000" stroke-width="2.2" fill="none"/>
<path d="M1356.7 436.3V460.3M1351.5 436.3h10.4M1351.5 460.3h10.4" stroke="#008000" stroke-width="2.2" fill="none"/>
<path d="M1372.6 437.3V461.3M1367.4 437.3h10.4M1367.4 461.3h10.4" stroke="#008000" stroke-width="2.2" fill="none"/>
<path d="M1422.1 437.3V461.3M1416.9 437.3h10.4M1416.9 461.3h10.4" stroke="#008000" stroke-width="2.2" fill="none"/>
<polygon points="873.5,104.0 879.4,98.2 885.3,104.0 879.4,109.8" fill="#008000"/>
<polygon points="922.9,101.5 928.9,95.7 934.8,101.5 928.9,107.3" fill="#008000"/>
<polygon points="988.4,105.8 994.3,100.0 1000.3,105.8 994.3,111.6" fill="#008000"/>
<polygon points="1037.9,113.0 1043.8,107.2 1049.7,113.0 1043.8,118.8" fill="#008000"/>
<polygon points="1087.3,116.0 1093.3,110.2 1099.2,116.0 1093.3,121.8" fill="#008000"/>
<polygon points="1136.8,160.0 1142.8,154.2 1148.7,160.0 1142.8,165.8" fill="#008000"/>
<polygon points="1165.8,204.3 1171.7,198.5 1177.7,204.3 1171.7,210.1" fill="#008000"/>
<polygon points="1186.3,286.5 1192.3,280.7 1198.2,286.5 1192.3,292.3" fill="#008000"/>
<polygon points="1202.3,352.3 1208.2,346.5 1214.1,352.3 1208.2,358.1" fill="#008000"/>
<polygon points="1251.7,437.1 1257.7,431.3 1263.6,437.1 1257.7,442.9" fill="#008000"/>
<polygon points="1301.2,443.1 1307.2,437.3 1313.1,443.1 1307.2,448.9" fill="#008000"/>
<polygon points="1330.2,449.3 1336.1,443.5 1342.1,449.3 1336.1,455.1" fill="#008000"/>
<polygon points="1350.7,448.3 1356.7,442.5 1362.6,448.3 1356.7,454.1" fill="#008000"/>
<polygon points="1366.7,449.3 1372.6,443.5 1378.5,449.3 1372.6,455.1" fill="#008000"/>
<polygon points="1416.1,449.3 1422.1,443.5 1428.0,449.3 1422.1,455.1" fill="#008000"/>
<polyline points="879.4,115.1 928.9,115.0 994.3,120.1 1043.8,125.7 1093.3,158.0 1142.8,181.0 1171.7,261.4 1192.3,361.5 1208.2,413.3 1257.7,471.7 1307.2,477.7 1336.1,477.0 1356.7,476.3 1372.6,479.5 1422.1,472.5" fill="none" stroke="#000080" stroke-width="2.8" stroke-linejoin="round"/>
<path d="M879.4 104.4V125.8M874.2 104.4h10.4M874.2 125.8h10.4" stroke="#000080" stroke-width="2.2" fill="none"/>
<path d="M928.9 99.2V130.8M923.7 99.2h10.4M923.7 130.8h10.4" stroke="#000080" stroke-width="2.2" fill="none"/>
<path d="M994.3 112.1V128.1M989.1 112.1h10.4M989.1 128.1h10.4" stroke="#000080" stroke-width="2.2" fill="none"/>
<path d="M1043.8 95.7V155.7M1038.6 95.7h10.4M1038.6 155.7h10.4" stroke="#000080" stroke-width="2.2" fill="none"/>
<path d="M1093.3 137.0V179.0M1088.1 137.0h10.4M1088.1 179.0h10.4" stroke="#000080" stroke-width="2.2" fill="none"/>
<path d="M1142.8 170.0V192.0M1137.6 170.0h10.4M1137.6 192.0h10.4" stroke="#000080" stroke-width="2.2" fill="none"/>
<path d="M1171.7 252.9V269.9M1166.5 252.9h10.4M1166.5 269.9h10.4" stroke="#000080" stroke-width="2.2" fill="none"/>
<path d="M1192.3 347.5V375.5M1187.1 347.5h10.4M1187.1 375.5h10.4" stroke="#000080" stroke-width="2.2" fill="none"/>
<path d="M1208.2 399.3V427.3M1203.0 399.3h10.4M1203.0 427.3h10.4" stroke="#000080" stroke-width="2.2" fill="none"/>
<path d="M1257.7 460.7V482.7M1252.5 460.7h10.4M1252.5 482.7h10.4" stroke="#000080" stroke-width="2.2" fill="none"/>
<path d="M1307.2 461.7V493.7M1302.0 461.7h10.4M1302.0 493.7h10.4" stroke="#000080" stroke-width="2.2" fill="none"/>
<path d="M1336.1 459.0V495.0M1330.9 459.0h10.4M1330.9 495.0h10.4" stroke="#000080" stroke-width="2.2" fill="none"/>
<path d="M1356.7 460.3V492.3M1351.5 460.3h10.4M1351.5 492.3h10.4" stroke="#000080" stroke-width="2.2" fill="none"/>
<path d="M1372.6 452.5V506.5M1367.4 452.5h10.4M1367.4 506.5h10.4" stroke="#000080" stroke-width="2.2" fill="none"/>
<path d="M1422.1 450.5V494.5M1416.9 450.5h10.4M1416.9 494.5h10.4" stroke="#000080" stroke-width="2.2" fill="none"/>
<polygon points="884.4,109.3 884.4,120.9 873.4,115.1" fill="#000080"/>
<polygon points="933.9,109.2 933.9,120.8 922.8,115.0" fill="#000080"/>
<polygon points="999.4,114.3 999.4,125.9 988.3,120.1" fill="#000080"/>
<polygon points="1048.8,119.9 1048.8,131.5 1037.8,125.7" fill="#000080"/>
<polygon points="1098.3,152.2 1098.3,163.8 1087.2,158.0" fill="#000080"/>
<polygon points="1147.8,175.2 1147.8,186.8 1136.7,181.0" fill="#000080"/>
<polygon points="1176.8,255.6 1176.8,267.2 1165.7,261.4" fill="#000080"/>
<polygon points="1197.3,355.7 1197.3,367.3 1186.2,361.5" fill="#000080"/>
<polygon points="1213.2,407.5 1213.2,419.1 1202.2,413.3" fill="#000080"/>
<polygon points="1262.7,465.9 1262.7,477.5 1251.6,471.7" fill="#000080"/>
<polygon points="1312.2,471.9 1312.2,483.5 1301.1,477.7" fill="#000080"/>
<polygon points="1341.2,471.2 1341.2,482.8 1330.1,477.0" fill="#000080"/>
<polygon points="1361.7,470.5 1361.7,482.1 1350.6,476.3" fill="#000080"/>
<polygon points="1377.6,473.7 1377.6,485.3 1366.6,479.5" fill="#000080"/>
<polygon points="1427.1,466.7 1427.1,478.3 1416.0,472.5" fill="#000080"/>
</g>
<rect x="864.2" y="48.6" width="587.0" height="482.7" fill="none" stroke="#000" stroke-width="2.8"/>
<path d="M864.2 370.7h9M864.2 209.9h9M864.2 451.2h4.5M864.2 290.3h4.5M864.2 129.5h4.5M879.4 531.3v-9M1043.8 531.3v-9M1208.2 531.3v-9M1372.6 531.3v-9M871.9 531.3v-4.5M928.9 531.3v-4.5M957.8 531.3v-4.5M978.4 531.3v-4.5M994.3 531.3v-4.5M1007.3 531.3v-4.5M1018.3 531.3v-4.5M1027.9 531.3v-4.5M1036.3 531.3v-4.5M1093.3 531.3v-4.5M1122.2 531.3v-4.5M1142.8 531.3v-4.5M1158.7 531.3v-4.5M1171.7 531.3v-4.5M1182.7 531.3v-4.5M1192.3 531.3v-4.5M1200.7 531.3v-4.5M1257.7 531.3v-4.5M1286.6 531.3v-4.5M1307.2 531.3v-4.5M1323.1 531.3v-4.5M1336.1 531.3v-4.5M1347.1 531.3v-4.5M1356.7 531.3v-4.5M1365.1 531.3v-4.5M1422.1 531.3v-4.5" stroke="#000" stroke-width="2.4" fill="none"/>
<path d="M402.5 74.0H431.5M448 74.0H477" stroke="#000000" stroke-width="3.5" stroke-linecap="round"/>
<rect x="435.1" y="69.3" width="9.4" height="9.4" fill="#000000"/>
<text x="487.5" y="84.0" font-size="34" font-family="Liberation Sans, sans-serif">PDM-co-PBMA</text>
<path d="M402.5 116.0H431.5M448 116.0H477" stroke="#ff0000" stroke-width="3.5" stroke-linecap="round"/>
<circle cx="439.8" cy="116.0" r="5.1" fill="#ff0000"/>
<text x="487.5" y="126.0" font-size="34" font-family="Liberation Sans, sans-serif">PDM-b-PMMA</text>
<path d="M402.5 157.9H431.5M448 157.9H477" stroke="#008000" stroke-width="3.5" stroke-linecap="round"/>
<polygon points="432.7,163.7 446.9,163.7 439.8,151.1" fill="#008000"/>
<text x="487.5" y="167.9" font-size="34" font-family="Liberation Sans, sans-serif">PDM-b-PEMA</text>
<path d="M402.5 199.9H431.5M448 199.9H477" stroke="#0000ff" stroke-width="3.5" stroke-linecap="round"/>
<polygon points="432.7,194.0 446.9,194.0 439.8,206.7" fill="#0000ff"/>
<text x="487.5" y="209.9" font-size="34" font-family="Liberation Sans, sans-serif">PDM-b-PBMA</text>
<path d="M402.5 241.8H431.5M448 241.8H477" stroke="#800080" stroke-width="3.5" stroke-linecap="round"/>
<polygon points="432.7,241.8 439.8,234.9 446.9,241.8 439.8,248.7" fill="#800080"/>
<text x="487.5" y="251.8" font-size="34" font-family="Liberation Sans, sans-serif">PDM-b-POMA</text>
<path d="M402.5 283.8H431.5M448 283.8H477" stroke="#ff00ff" stroke-width="3.5" stroke-linecap="round"/>
<polygon points="445.8,276.8 445.8,290.7 432.8,283.8" fill="#ff00ff"/>
<text x="487.5" y="293.8" font-size="34" font-family="Liberation Sans, sans-serif">PDM-b-PLMA</text>
<path d="M882.5 298.6H953.5" stroke="#000000" stroke-width="3.4"/>
<rect x="912.7" y="293.1" width="10.9" height="10.9" fill="#000000"/>
<text x="961.5" y="308.1" font-size="31" font-family="Liberation Sans, sans-serif">PDM-co-PBMA</text>
<path d="M882.5 337.6H953.5" stroke="#ff0000" stroke-width="3.4"/>
<circle cx="918.2" cy="337.6" r="5.7" fill="#ff0000"/>
<text x="961.5" y="347.1" font-size="31" font-family="Liberation Sans, sans-serif">PDM-b-PMMA</text>
<path d="M882.5 376.6H953.5" stroke="#0000ff" stroke-width="3.4"/>
<polygon points="911.3,382.3 925.1,382.3 918.2,369.9" fill="#0000ff"/>
<text x="961.5" y="386.1" font-size="31" font-family="Liberation Sans, sans-serif">PDM-b-PEMA</text>
<path d="M882.5 415.6H953.5" stroke="#ff00ff" stroke-width="3.4"/>
<polygon points="911.3,409.9 925.1,409.9 918.2,422.3" fill="#ff00ff"/>
<text x="961.5" y="425.1" font-size="31" font-family="Liberation Sans, sans-serif">PDM-b-PBMA</text>
<path d="M882.5 454.6H953.5" stroke="#008000" stroke-width="3.4"/>
<polygon points="911.3,454.6 918.2,447.9 925.1,454.6 918.2,461.3" fill="#008000"/>
<text x="961.5" y="464.1" font-size="31" font-family="Liberation Sans, sans-serif">PDM-b-POMA</text>
<path d="M882.5 493.6H953.5" stroke="#000080" stroke-width="3.4"/>
<polygon points="924.1,486.9 924.1,500.3 911.3,493.6" fill="#000080"/>
<text x="961.5" y="503.1" font-size="31" font-family="Liberation Sans, sans-serif">PDM-b-PLMA</text>
<g transform="translate(74.26,58.90) scale(1,1.04)"><text x="0.00" y="0" font-size="36" font-family="Liberation Sans, sans-serif">5</text><text x="20.02" y="0" font-size="36" font-family="Liberation Sans, sans-serif">0</text></g>
<g transform="translate(74.26,186.60) scale(1,1.04)"><text x="0.00" y="0" font-size="36" font-family="Liberation Sans, sans-serif">4</text><text x="20.02" y="0" font-size="36" font-family="Liberation Sans, sans-serif">5</text></g>
<g transform="translate(74.26,313.90) scale(1,1.04)"><text x="0.00" y="0" font-size="36" font-family="Liberation Sans, sans-serif">4</text><text x="20.02" y="0" font-size="36" font-family="Liberation Sans, sans-serif">0</text></g>
<g transform="translate(74.26,441.80) scale(1,1.04)"><text x="0.00" y="0" font-size="36" font-family="Liberation Sans, sans-serif">3</text><text x="20.02" y="0" font-size="36" font-family="Liberation Sans, sans-serif">5</text></g>
<g transform="translate(209.18,570.60) scale(1,1.04)"><text x="0.00" y="0" font-size="36" font-family="Liberation Sans, sans-serif">0</text><text x="20.02" y="0" font-size="36" font-family="Liberation Sans, sans-serif">.</text><path transform="translate(30.02,0) scale(0.01758,-0.01758)" d="M763 0H583V1120Q518 1060 412 1000Q307 940 223 909V1079Q374 1148 487 1247Q600 1346 647 1430H763Z"/></g>
<g transform="translate(587.19,570.60) scale(1,1.04)"><path transform="translate(0.00,0) scale(0.01758,-0.01758)" d="M763 0H583V1120Q518 1060 412 1000Q307 940 223 909V1079Q374 1148 487 1247Q600 1346 647 1430H763Z"/></g>
<g transform="translate(804.06,60.00) scale(1,1.04)"><path transform="translate(0.00,0) scale(0.01758,-0.01758)" d="M763 0H583V1120Q518 1060 412 1000Q307 940 223 909V1079Q374 1148 487 1247Q600 1346 647 1430H763Z"/><text x="20.02" y="0" font-size="36" font-family="Liberation Sans, sans-serif">.</text><text x="30.02" y="0" font-size="36" font-family="Liberation Sans, sans-serif">8</text></g>
<g transform="translate(804.06,220.60) scale(1,1.04)"><path transform="translate(0.00,0) scale(0.01758,-0.01758)" d="M763 0H583V1120Q518 1060 412 1000Q307 940 223 909V1079Q374 1148 487 1247Q600 1346 647 1430H763Z"/><text x="20.02" y="0" font-size="36" font-family="Liberation Sans, sans-serif">.</text><text x="30.02" y="0" font-size="36" font-family="Liberation Sans, sans-serif">5</text></g>
<g transform="translate(804.06,381.70) scale(1,1.04)"><path transform="translate(0.00,0) scale(0.01758,-0.01758)" d="M763 0H583V1120Q518 1060 412 1000Q307 940 223 909V1079Q374 1148 487 1247Q600 1346 647 1430H763Z"/><text x="20.02" y="0" font-size="36" font-family="Liberation Sans, sans-serif">.</text><text x="30.02" y="0" font-size="36" font-family="Liberation Sans, sans-serif">2</text></g>
<g transform="translate(804.06,542.00) scale(1,1.04)"><text x="0.00" y="0" font-size="36" font-family="Liberation Sans, sans-serif">0</text><text x="20.02" y="0" font-size="36" font-family="Liberation Sans, sans-serif">.</text><text x="30.02" y="0" font-size="36" font-family="Liberation Sans, sans-serif">9</text></g>
<g transform="translate(845.57,570.00) scale(1,1.04)"><text x="0.00" y="0" font-size="36" font-family="Liberation Sans, sans-serif">0</text><text x="20.02" y="0" font-size="36" font-family="Liberation Sans, sans-serif">.</text><text x="30.02" y="0" font-size="36" font-family="Liberation Sans, sans-serif">0</text><path transform="translate(50.04,0) scale(0.01758,-0.01758)" d="M763 0H583V1120Q518 1060 412 1000Q307 940 223 909V1079Q374 1148 487 1247Q600 1346 647 1430H763Z"/></g>
<g transform="translate(1019.78,570.00) scale(1,1.04)"><text x="0.00" y="0" font-size="36" font-family="Liberation Sans, sans-serif">0</text><text x="20.02" y="0" font-size="36" font-family="Liberation Sans, sans-serif">.</text><path transform="translate(30.02,0) scale(0.01758,-0.01758)" d="M763 0H583V1120Q518 1060 412 1000Q307 940 223 909V1079Q374 1148 487 1247Q600 1346 647 1430H763Z"/></g>
<g transform="translate(1198.49,570.00) scale(1,1.04)"><path transform="translate(0.00,0) scale(0.01758,-0.01758)" d="M763 0H583V1120Q518 1060 412 1000Q307 940 223 909V1079Q374 1148 487 1247Q600 1346 647 1430H763Z"/></g>
<g transform="translate(1352.68,570.00) scale(1,1.04)"><path transform="translate(0.00,0) scale(0.01758,-0.01758)" d="M763 0H583V1120Q518 1060 412 1000Q307 940 223 909V1079Q374 1148 487 1247Q600 1346 647 1430H763Z"/><text x="20.02" y="0" font-size="36" font-family="Liberation Sans, sans-serif">0</text></g>
<text x="422.5" y="603.8" font-size="38" text-anchor="middle" font-family="Liberation Sans, sans-serif" >Concentration (g/L)</text>
<text x="1160.6" y="603.8" font-size="38" text-anchor="middle" font-family="Liberation Sans, sans-serif" >Concentration (g/L)</text>
<text transform="translate(61.5,290) rotate(-90)" font-size="38" text-anchor="middle" textLength="425" lengthAdjust="spacing" font-family="Liberation Sans, sans-serif">Surface Tension (mN/m)</text>
<g transform="translate(785.5,290) rotate(-90)" font-family="Liberation Sans, sans-serif"><text x="-30.3" y="0" font-size="38">I</text><path transform="translate(-19.0,10) scale(0.01221,-0.01221)" d="M763 0H583V1120Q518 1060 412 1000Q307 940 223 909V1079Q374 1148 487 1247Q600 1346 647 1430H763Z"/><text x="-5.7" y="0" font-size="38">/</text><text x="5.9" y="0" font-size="38">I</text><text x="16.75" y="10" font-size="25">3</text></g>
<text x="18" y="48.6" font-size="47" font-weight="bold" font-family="Liberation Sans, sans-serif">(a)</text>
<text x="748" y="48.6" font-size="47" font-weight="bold" font-family="Liberation Sans, sans-serif">(b)</text>
</svg>
</body></html>
